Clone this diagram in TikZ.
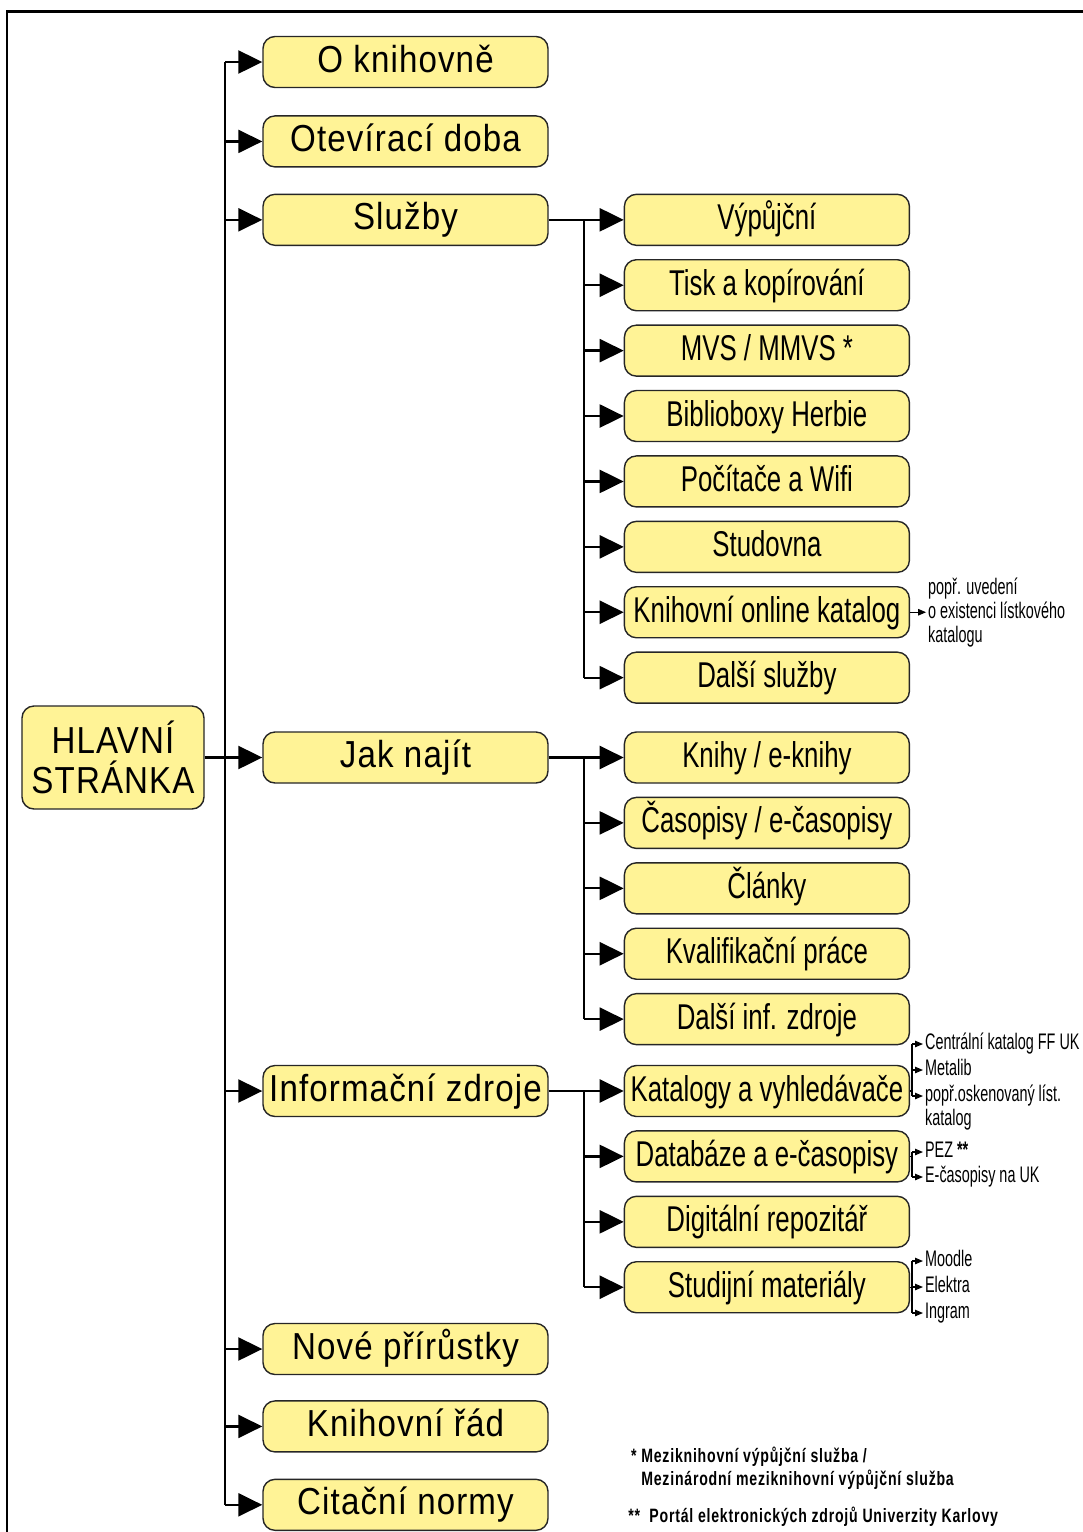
\documentclass[tikz,border=0pt]{standalone}
\usepackage{fontspec}
\setmainfont{Liberation Sans}
\newfontfamily\topfont[FakeStretch=0.88,LetterSpace=3]{Liberation Sans}
\newfontfamily\subfont[FakeStretch=0.72]{Liberation Sans}
\newfontfamily\notefont[FakeStretch=0.64]{Liberation Sans}
\newfontfamily\footfont[FakeStretch=0.73,LetterSpace=4]{Liberation Sans}
\usetikzlibrary{arrows.meta,calc,positioning}
\definecolor{boxyellow}{RGB}{255,243,150}
\tikzset{
  box/.style={draw=black!85, line width=0.8pt, fill=boxyellow, rounded corners=0.24cm,
    minimum width=5.7cm, minimum height=1.02cm, inner sep=0pt},
  topbox/.style={box, font=\topfont\fontsize{21.4}{22.7}\selectfont, text height=0.56cm, text depth=0.16cm},
  subbox/.style={box, font=\subfont\fontsize{20.4}{22}\selectfont, text height=0.55cm, text depth=0.15cm},
  arr/.style={line width=1.3pt, -{Triangle[length=0.48cm,width=0.46cm]}},
  trunk/.style={line width=1.2pt},
  note/.style={font=\notefont\fontsize{12.8}{13.6}\selectfont, inner sep=1pt, align=left},
  snote/.style={note, text height=0.3cm, text depth=0.08cm, anchor=west},
  sline/.style={line width=0.6pt},
  sarr/.style={line width=0.6pt, -{Triangle[length=0.16cm,width=0.13cm]}},
  foot/.style={font=\footfont\bfseries\fontsize{11}{13}\selectfont, inner sep=0pt, align=left, anchor=west}
}
\begin{document}
\begin{tikzpicture}
\useasboundingbox (0,0) rectangle (21.66,-30.64);
\draw[line width=1.7pt] (0.14,-30.64) -- (0.14,-0.22) -- (21.66,-0.22);

\node[box, minimum width=3.64cm, minimum height=2.06cm, align=center,
  font=\topfont\fontsize{21.4}{22.7}\selectfont] (hlavni) at (2.26,-15.15) {HLAVNÍ\\STRÁNKA};

\node[topbox] (okn) at (8.11,-1.24) {O knihovně};
\node[topbox, below=0.54cm of okn] (otev) {Otevírací doba};
\node[topbox, below=0.52cm of otev] (sluz) {Služby};
\node[topbox] (jak) at (8.11,-15.15) {Jak najít};
\node[topbox] (info) at (8.11,-21.82) {Informační zdroje};
\node[topbox] (nove) at (8.11,-26.98) {Nové přírůstky};
\node[topbox, below=0.5cm of nove] (rad) {Knihovní řád};
\node[topbox, below=0.52cm of rad] (cit) {Citační normy};

\node[subbox, right=1.5cm of sluz] (vyp) {Výpůjční};
\node[subbox, below=0.26cm of vyp] (tisk) {Tisk a kopírování};
\node[subbox, below=0.26cm of tisk] (mvs) {MVS / MMVS *};
\node[subbox, below=0.26cm of mvs] (bib) {Biblioboxy Herbie};
\node[subbox, below=0.26cm of bib] (poc) {Počítače a Wifi};
\node[subbox, below=0.26cm of poc] (stud) {Studovna};
\node[subbox, below=0.26cm of stud] (onl) {Knihovní online katalog};
\node[subbox, below=0.26cm of onl] (dals) {Další služby};

\node[subbox, right=1.5cm of jak] (knih) {Knihy / e-knihy};
\node[subbox, below=0.26cm of knih] (cas) {Časopisy / e-časopisy};
\node[subbox, below=0.26cm of cas] (clan) {Články};
\node[subbox, below=0.26cm of clan] (kval) {Kvalifikační práce};
\node[subbox, below=0.26cm of kval] (dinf) {Další inf. zdroje};

\node[subbox, right=1.5cm of info] (kat) {Katalogy a vyhledávače};
\node[subbox, below=0.26cm of kat] (dat) {Databáze a e-časopisy};
\node[subbox, below=0.26cm of dat] (dig) {Digitální repozitář};
\node[subbox, below=0.26cm of dig] (stj) {Studijní materiály};

\coordinate (t) at (4.5,0);
\draw[trunk] (okn.west -| t) -- (cit.west -| t);
\foreach \n in {okn,otev,sluz,info,nove,rad,cit}
  \draw[arr] (\n.west -| t) -- (\n.west);
\draw[arr] (hlavni.east) -- (jak.west);

\draw[arr] (sluz.east) -- (vyp.west);
\draw[trunk] ($(vyp.west)+(-0.8,0)$) -- ($(dals.west)+(-0.8,0)$);
\foreach \n in {tisk,mvs,bib,poc,stud,onl,dals}
  \draw[arr] ($(\n.west)+(-0.8,0)$) -- (\n.west);

\draw[arr] (jak.east) -- (knih.west);
\draw[trunk] ($(knih.west)+(-0.8,0)$) -- ($(dinf.west)+(-0.8,0)$);
\foreach \n in {cas,clan,kval,dinf}
  \draw[arr] ($(\n.west)+(-0.8,0)$) -- (\n.west);

\draw[arr] (info.east) -- (kat.west);
\draw[trunk] ($(kat.west)+(-0.8,0)$) -- ($(stj.west)+(-0.8,0)$);
\foreach \n in {dat,dig,stj}
  \draw[arr] ($(\n.west)+(-0.8,0)$) -- (\n.west);

\node[note, right=0.32cm of onl] (onlpozn) {popř. uvedení\\o existenci lístkového\\katalogu};
\draw[sarr] (onl.east) -- (onlpozn.west);

\coordinate (b) at (18.24,0);
\node[snote] (cff) at (18.46,-20.88) {Centrální katalog FF UK};
\node[snote] (met) at (18.46,-21.40) {Metalib};
\node[snote] (pop) at (18.46,-21.92) {popř.oskenovaný líst.};
\node[snote] (popk) at (18.46,-22.40) {katalog};
\draw[sline] (cff.west -| b) -- (pop.west -| b);
\draw[sline] (kat.east) -- (kat.east -| b);
\foreach \n in {cff,met,pop}
  \draw[sarr] (\n.west -| b) -- (\n.west);

\node[snote] (pez) at (18.46,-23.04) {PEZ \textbf{**}};
\node[snote] (ecas) at (18.46,-23.54) {E-časopisy na UK};
\draw[sline] (pez.west -| b) -- (ecas.west -| b);
\draw[sline] (dat.east) -- (dat.east -| b);
\foreach \n in {pez,ecas}
  \draw[sarr] (\n.west -| b) -- (\n.west);

\node[snote] (mood) at (18.46,-25.22) {Moodle};
\node[snote] (elek) at (18.46,-25.74) {Elektra};
\node[snote] (ingr) at (18.46,-26.26) {Ingram};
\draw[sline] (mood.west -| b) -- (ingr.west -| b);
\draw[sline] (stj.east) -- (stj.east -| b);
\foreach \n in {mood,elek,ingr}
  \draw[sarr] (\n.west -| b) -- (\n.west);

\node[foot] (fn1) at (12.82,-29.36) {\llap{*\ }Meziknihovní výpůjční služba /\\Mezinárodní meziknihovní výpůjční služba};
\node[foot] (fn2) at (12.56,-30.34) {**\ \ Portál elektronických zdrojů Univerzity Karlovy};
\end{tikzpicture}
\end{document}
